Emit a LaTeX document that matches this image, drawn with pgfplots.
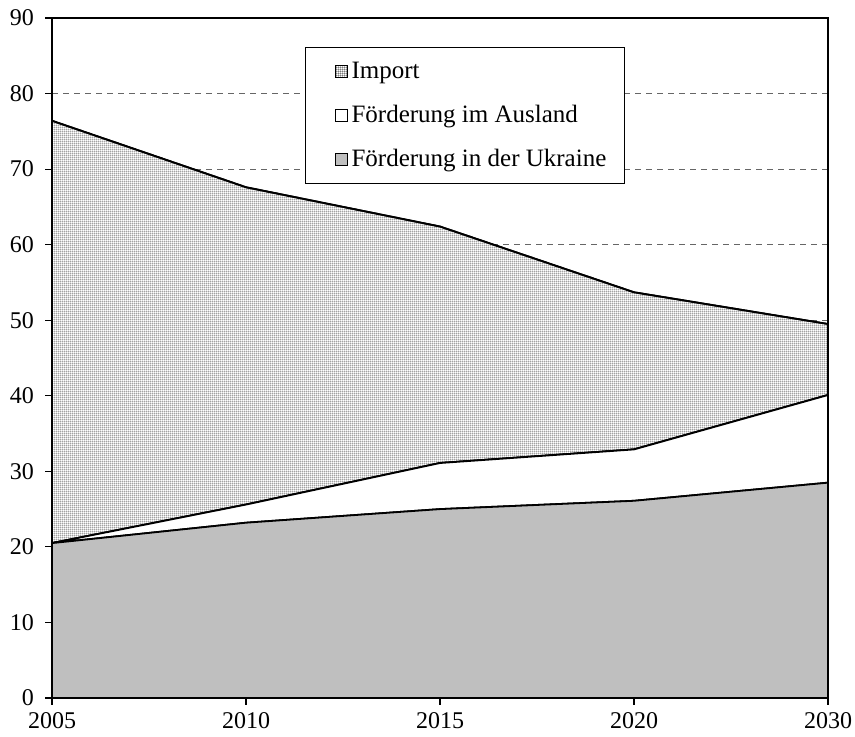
\documentclass[border=0pt]{standalone}
\usepackage{pgfplots}
\pgfplotsset{compat=1.18}
\usepackage{fontspec}
\setmainfont{Liberation Serif}
\usetikzlibrary{patterns.meta}
\tikzdeclarepattern{
  name=finegrid,
  type=uncolored,
  bounding box={(0,0) and (1.1pt,1.1pt)},
  tile size={(1.1pt,1.1pt)},
  code={\draw[line width=0.5pt] (0,0) -- (1.1pt,0); \draw[line width=0.5pt] (0,0) -- (0,1.1pt);}
}
\newcommand{\legbox}{\pgfpathrectangle{\pgfpoint{0pt}{-3pt}}{\pgfpoint{14pt}{6pt}}\pgfusepath{use as bounding box}}
\begin{document}
\begin{tikzpicture}
\begin{axis}[
  scale only axis,
  width=388pt, height=340pt,
  xmin=0, xmax=4, ymin=0, ymax=90,
  xtick={0,1,2,3,4},
  xticklabels={2005,2010,2015,2020,2030},
  ytick={0,10,...,90},
  xtick pos=bottom, ytick pos=left,
  tick align=outside,
  major tick length=3.5pt,
  tick style={black, line width=0.6pt},
  axis line style={black, line width=0.8pt},
  ymajorgrids,
  major grid style={dash pattern=on 3pt off 2.5pt, gray!80!black, line width=0.4pt},
  stack plots=y,
  /pgf/number format/assume math mode=true,
  ticklabel style={font=\fontsize{12}{14}\selectfont},
  yticklabel style={xshift=-2pt},
  legend style={at={(0.326,0.957)}, anchor=north west, draw=black, line width=0.6pt,
    font=\fontsize{12.5}{14}\selectfont, row sep=8pt, inner xsep=7pt, inner ysep=5pt,
    cells={anchor=west}},
  legend image code/.code={\legbox \draw[#1, line width=0.5pt] (8pt,-3pt) rectangle (14pt,3pt);},
  reverse legend,
]
\addplot[fill=white!75!black, draw=black, line width=0.9pt] coordinates {(0,20.5) (1,23.2) (2,25.0) (3,26.1) (4,28.5)} \closedcycle;
\addlegendentry{Förderung in der Ukraine}
\addplot[fill=white, draw=black, line width=0.9pt] coordinates {(0,0) (1,2.4) (2,6.1) (3,6.8) (4,11.6)} \closedcycle;
\addlegendentry{Förderung im Ausland}
\addplot[fill=white, postaction={pattern=finegrid, pattern color=black!62}, draw=black, line width=0.9pt,
  legend image code/.code={\legbox \draw[fill=white, postaction={pattern=finegrid, pattern color=black!62}, draw=black, line width=0.5pt] (8pt,-3pt) rectangle (14pt,3pt);}] coordinates {(0,55.9) (1,42.0) (2,31.3) (3,20.8) (4,9.4)} \closedcycle;
\addlegendentry{Import}
\coordinate (sw) at (rel axis cs:0,0);
\coordinate (ne) at (rel axis cs:1,1);
\end{axis}
\draw[black, line width=0.8pt] (sw) rectangle (ne);
\pgfresetboundingbox
\path[use as bounding box] ([shift={(-26pt,-19.5pt)}]sw) rectangle ([shift={(13.5pt,9pt)}]ne);
\end{tikzpicture}
\end{document}
